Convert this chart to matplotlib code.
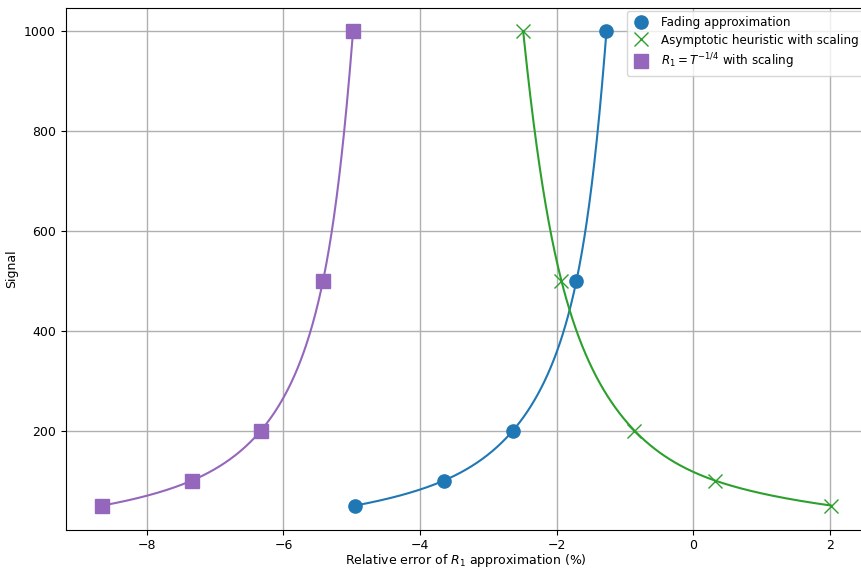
import numpy as np
import matplotlib.pyplot as plt

signal = [50, 100, 200, 500, 1000]
fading_err = [-4.95, -3.65, -2.64, -1.71, -1.27]
asym_err = [2.02, 0.32, -0.86, -1.93, -2.49]
power_err = [-8.65, -7.34, -6.33, -5.42, -4.98]


def natural_spline(xk, yk, xs):
    # natural cubic spline through the knots, evaluated at xs
    xk = np.asarray(xk, float)
    yk = np.asarray(yk, float)
    n = len(xk)
    h = np.diff(xk)
    A = np.zeros((n, n))
    b = np.zeros(n)
    A[0, 0] = A[-1, -1] = 1
    for i in range(1, n - 1):
        A[i, i - 1] = h[i - 1]
        A[i, i] = 2 * (h[i - 1] + h[i])
        A[i, i + 1] = h[i]
        b[i] = 6 * ((yk[i + 1] - yk[i]) / h[i] - (yk[i] - yk[i - 1]) / h[i - 1])
    M = np.linalg.solve(A, b)
    idx = np.clip(np.searchsorted(xk, xs) - 1, 0, n - 2)
    x0, x1 = xk[idx], xk[idx + 1]
    hh = x1 - x0
    t0 = x1 - xs
    t1 = xs - x0
    return (M[idx] * t0 ** 3 / (6 * hh) + M[idx + 1] * t1 ** 3 / (6 * hh)
            + (yk[idx] / hh - M[idx] * hh / 6) * t0
            + (yk[idx + 1] / hh - M[idx + 1] * hh / 6) * t1)


plt.rcParams['font.size'] = 9

fig = plt.figure(figsize=(8.62, 5.70), dpi=100)
# right edge of the axes sits just past the image edge (cropped original)
ax = fig.add_axes([0.076, 0.071, 0.9287, 0.915])

series = [
    (fading_err, 'tab:blue', 'o', 'Fading approximation'),
    (asym_err, 'tab:green', 'x', 'Asymptotic heuristic with scaling'),
    (power_err, 'tab:purple', 's', r'$R_1 = T^{-1/4}$ with scaling'),
]
logy = np.log(signal)
ls = np.linspace(logy[0], logy[-1], 400)
for err, c, m, lab in series:
    # smooth curve: spline of error against log(signal)
    ax.plot(natural_spline(logy, err, ls), np.exp(ls), color=c, lw=1.5)
    ax.plot(err, signal, m, color=c, ms=9.5, label=lab)

ax.set_xlim(-9.19, 2.53)
ax.set_ylim(2, 1046)
ax.set_yticks([200, 400, 600, 800, 1000])
ax.grid(True, color='#b0b0b0', lw=1)
ax.set_xlabel('Relative error of $R_1$ approximation (%)', labelpad=0)
ax.set_ylabel('Signal')
ax.legend(loc='upper right', borderaxespad=0.25, fontsize=8.6,
          handlelength=1.6, labelspacing=0.4)

fig.savefig('out.png', dpi=100)
